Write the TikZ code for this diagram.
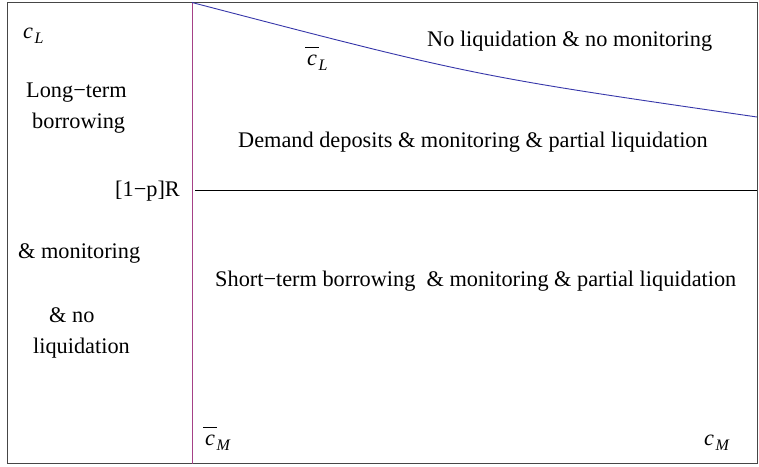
\documentclass[tikz,border=0pt]{standalone}
\usepackage{fontspec}
\setmainfont{Liberation Serif}
\definecolor{framec}{RGB}{70,70,70}
\definecolor{magc}{RGB}{165,65,135}
\definecolor{bluec}{RGB}{55,55,170}
\newcommand\csub[1]{\textit{c}\kern1.5pt\raisebox{-5pt}{\fontsize{16}{16}\selectfont\textit{#1}}}
\newcommand\cbarsub[1]{\makebox[0pt][l]{\kern-2pt\rule[17pt]{14pt}{0.8pt}}\csub{#1}}
\begin{document}
\begin{tikzpicture}[x=1pt,y=-1pt,
  lbl/.style={inner sep=0pt, anchor=base west, font=\fontsize{22.3}{27}\selectfont},
  lble/.style={lbl, anchor=base east}]
\useasboundingbox (0,0) rectangle (759,466);
\fill[white] (0,0) rectangle (759,466);
\coordinate (tl) at (7,2.5);
\coordinate (br) at (757,463.5);
\draw[framec, line width=1pt] (tl) rectangle (br);
\coordinate (vt) at (192,2.5);
\coordinate (vb) at (192,463.5);
\draw[magc, line width=0.9pt] (vt) -- (vb);
\coordinate (hl) at (195,190);
\coordinate (hr) at (757,190);
\draw[black, line width=0.9pt] (hl) -- (hr);
\coordinate (cs) at (192,2.5);
\coordinate (ce) at (757,117);
\draw[bluec, line width=0.9pt] (cs) .. controls (474,76) .. (ce);
\node[lbl] (cL) at (23,38) {\csub{L}};
\node[lbl] (lt1) at (26,97) {Long−term};
\node[lbl] (lt2) at (32,128) {borrowing};
\node[lble] (pr) at (180,196) {[1−p]R};
\node[lbl] (mon) at (18,258) {\& monitoring};
\node[lbl] (nol1) at (49,322) {\& no};
\node[lbl] (nol2) at (33,353) {liquidation};
\node[lbl] (cbM) at (205,445) {\cbarsub{M}};
\node[lbl] (cM) at (704,445) {\csub{M}};
\node[lbl] (cbL) at (307,65) {\cbarsub{L}};
\node[lbl] (r1) at (427,46) {No liquidation \& no monitoring};
\node[lbl] (r2) at (238,147) {Demand deposits \& monitoring \& partial liquidation};
\node[lbl] (r3) at (215,286) {Short−term borrowing\ \ \& monitoring \& partial liquidation};
\end{tikzpicture}
\end{document}
